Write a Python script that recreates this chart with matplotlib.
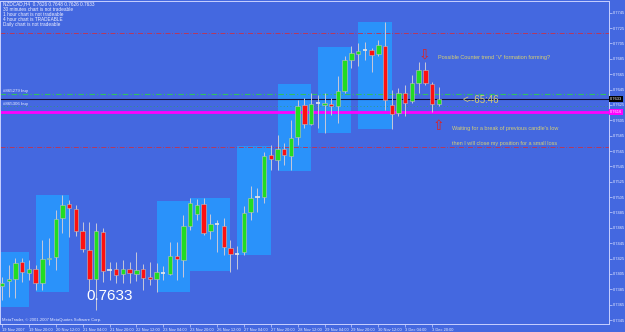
import numpy as np
import matplotlib.pyplot as plt
from matplotlib.patches import Rectangle

plt.rcParams['font.family'] = ['Liberation Sans', 'DejaVu Sans']

# NZDCAD H4 candles, bar 0 = 19 Nov 2007 04:00
opens = [0.7389, 0.7396, 0.7399, 0.7421, 0.7406, 0.7412, 0.7393, 0.7425, 0.7427, 0.7478,
         0.7496, 0.7490, 0.7461, 0.7436, 0.7399, 0.7460, 0.7410, 0.7412, 0.7405, 0.7412,
         0.7405, 0.7412, 0.7401, 0.7398, 0.7406, 0.7405, 0.7428, 0.7423, 0.7468, 0.7483,
         0.7496, 0.7461, 0.7470, 0.7468, 0.7439, 0.7431, 0.7433, 0.7485, 0.7505, 0.7505,
         0.7560, 0.7553, 0.7567, 0.7559, 0.7583, 0.7625, 0.7600, 0.7627, 0.7625, 0.7626,
         0.7623, 0.7643, 0.7683, 0.7691, 0.7696, 0.7697, 0.7691, 0.7702, 0.7625, 0.7614,
         0.7640, 0.7630, 0.7654, 0.7670, 0.7652, 0.7626]
highs = [0.7401, 0.7417, 0.7426, 0.7426, 0.7423, 0.7417, 0.7449, 0.7452, 0.7488, 0.7508,
         0.7501, 0.7495, 0.7473, 0.7473, 0.7471, 0.7465, 0.7421, 0.7421, 0.7423, 0.7421,
         0.7434, 0.7418, 0.7421, 0.7419, 0.7415, 0.7447, 0.7446, 0.7482, 0.7504, 0.7503,
         0.7504, 0.7483, 0.7475, 0.7478, 0.7449, 0.7441, 0.7494, 0.7519, 0.7517, 0.7564,
         0.7573, 0.7586, 0.7575, 0.7605, 0.7631, 0.7634, 0.7641, 0.7638, 0.7641, 0.7634,
         0.7662, 0.7688, 0.7701, 0.7706, 0.7707, 0.7699, 0.7710, 0.7733, 0.7644, 0.7647,
         0.7651, 0.7664, 0.7681, 0.7681, 0.7655, 0.7648]
lows = [0.7371, 0.7375, 0.7374, 0.7395, 0.7397, 0.7384, 0.7384, 0.7417, 0.7410, 0.7458,
        0.7453, 0.7454, 0.7434, 0.7384, 0.7358, 0.7395, 0.7397, 0.7393, 0.7393, 0.7393,
        0.7396, 0.7384, 0.7391, 0.7382, 0.7397, 0.7404, 0.7397, 0.7401, 0.7462, 0.7475,
        0.7456, 0.7451, 0.7434, 0.7430, 0.7408, 0.7412, 0.7430, 0.7475, 0.7485, 0.7497,
        0.7540, 0.7540, 0.7547, 0.7540, 0.7573, 0.7595, 0.7599, 0.7595, 0.7588, 0.7612,
        0.7602, 0.7641, 0.7673, 0.7675, 0.7683, 0.7668, 0.7689, 0.7618, 0.7594, 0.7611,
        0.7610, 0.7627, 0.7641, 0.7651, 0.7616, 0.7623]
closes = [0.7393, 0.7399, 0.7419, 0.7408, 0.7412, 0.7393, 0.7425, 0.7426, 0.7477, 0.7495,
          0.7491, 0.7461, 0.7438, 0.7399, 0.7461, 0.7409, 0.7410, 0.7404, 0.7412, 0.7406,
          0.7410, 0.7400, 0.7399, 0.7407, 0.7406, 0.7428, 0.7424, 0.7467, 0.7498, 0.7495,
          0.7458, 0.7470, 0.7470, 0.7440, 0.7431, 0.7431, 0.7484, 0.7504, 0.7505, 0.7559,
          0.7554, 0.7568, 0.7560, 0.7582, 0.7624, 0.7600, 0.7626, 0.7627, 0.7627, 0.7623,
          0.7643, 0.7683, 0.7692, 0.7695, 0.7696, 0.7690, 0.7703, 0.7631, 0.7613, 0.7641,
          0.7628, 0.7653, 0.7671, 0.7653, 0.7626, 0.7633]

# daily range boxes (first bar, last bar, high, low)
box_start = [-1, 5, 23, 28, 35, 41, 47, 53]
box_end = [4, 10, 28, 34, 40, 46, 52, 58]
box_high = [0.7434, 0.7508, 0.7500, 0.7504, 0.7572, 0.7652, 0.7700, 0.7733]
box_low = [0.7362, 0.7381, 0.7382, 0.7409, 0.7430, 0.7539, 0.7588, 0.7594]

time_labels = ["19 Nov 2007", "19 Nov 20:00", "20 Nov 12:00", "21 Nov 04:00", "21 Nov 20:00",
               "22 Nov 12:00", "23 Nov 04:00", "23 Nov 20:00", "26 Nov 12:00", "27 Nov 04:00",
               "27 Nov 20:00", "28 Nov 12:00", "29 Nov 04:00", "29 Nov 20:00", "30 Nov 12:00",
               "3 Dec 04:00", "3 Dec 20:00"]
time_bars = list(range(0, 65, 4))

price_ticks = np.round(np.arange(0.7345, 0.7746, 0.002), 4)

bid = 0.7633
magenta_level = 0.7616
order1 = 0.7639
order2 = 0.7623
red_levels = [0.7719, 0.7570]

bg = '#4468E0'
box_col = '#2A92FA'
axis_col = '#C8D0FF'
text_yel = '#D8D070'

fig = plt.figure(figsize=(6.25, 3.32), dpi=100)
fig.patch.set_facecolor(bg)
ax = fig.add_axes([0, 8 / 332, 609 / 625, 323 / 332])
ax.set_facecolor(bg)
ax.set_xlim(-0.3, 90.33)
ax.set_ylim(0.73399, 0.77602)

for s, e, h, l in zip(box_start, box_end, box_high, box_low):
    ax.add_patch(Rectangle((s, l), e - s, h - l, facecolor=box_col, edgecolor='none', zorder=1))

# levels
for lv in red_levels:
    ax.axhline(lv, color='#C83048', lw=0.6, ls=(0, (6, 2, 1, 2)), zorder=2)
ax.axhline(order1, color='#30C060', lw=0.8, ls=(0, (5, 2, 1, 2)), zorder=2)
ax.axhline(order2, color='#30A060', lw=0.6, ls=(0, (1, 3)), zorder=2)
ax.axhline(bid, color='#101040', lw=0.8, zorder=2)
ax.axhline(magenta_level, color='#FF00FF', lw=2, zorder=2)

# candles
x = np.arange(len(opens))
ax.vlines(x, lows, highs, color='#C8C8D8', lw=0.7, zorder=3)
for i in x:
    o, c = opens[i], closes[i]
    if abs(c - o) < 0.00005:
        ax.hlines(o, i - 0.32, i + 0.32, color='#E8E8E8', lw=1.2, zorder=4)
        continue
    col = '#22DD22' if c > o else '#FF1010'
    ax.bar(i, abs(c - o), bottom=min(o, c), width=0.66, color=col,
           edgecolor='#C0C0C0', linewidth=0.4, zorder=4)

# axes styling
for sp in ax.spines.values():
    sp.set_color(axis_col)
    sp.set_linewidth(0.7)
ax.yaxis.tick_right()
ax.set_yticks(price_ticks)
ax.set_yticklabels([f'{p:.4f}' for p in price_ticks])
ax.set_xticks(time_bars)
ax.set_xticklabels(time_labels, ha='left')
ax.tick_params(axis='both', colors=axis_col, labelcolor='#E8ECFF', labelsize=2.9,
               length=2, width=0.5, pad=1)
ax.tick_params(axis='y', pad=0.8)

# price boxes on the right axis
ax.text(90.5, bid, '0.7633', fontsize=2.9, color='white', va='center', ha='left',
        bbox=dict(boxstyle='square,pad=0.2', fc='black', ec='none'), clip_on=False, zorder=6)
ax.text(90.5, magenta_level, '0.7616', fontsize=2.9, color='white', va='center', ha='left',
        bbox=dict(boxstyle='square,pad=0.2', fc='#FF00FF', ec='none'), clip_on=False, zorder=6)

# annotations
ax.text(0.2, 0.76437, '#865279 buy', fontsize=3.2, color='#E8ECFF', va='center')
ax.text(0.2, 0.76262, '#865306 buy', fontsize=3.2, color='#E8ECFF', va='center')
ax.text(64.9, 0.76873, "Possible Counter trend `V' formation forming?", fontsize=4.0,
        color=text_yel, va='center')
ax.text(68.6, 0.76314, '<--65:46', fontsize=7, color=text_yel, va='center')
ax.text(67.0, 0.75937, "Waiting for a break of previous candle's low", fontsize=4.0,
        color=text_yel, va='center')
ax.text(67.0, 0.75754, 'then I will close my position for a small loss', fontsize=4.0,
        color=text_yel, va='center')
ax.text(62.8, 0.76900, '\u21e9', fontsize=10, color='#E02020', ha='center', va='center',
        family='DejaVu Sans')
ax.text(65.0, 0.75976, '\u21e7', fontsize=10, color='#E02020', ha='center', va='center',
        family='DejaVu Sans')
ax.text(12.5, 0.73764, '0.7633', fontsize=11, color='white', va='center')
ax.text(0.0, 0.7342, 'MetaTrader, \u00a9 2001-2007 MetaQuotes Software Corp.', fontsize=3.0,
        color='#E8ECFF', va='bottom')

top_lines = ['NZDCAD,H4  0.7626 0.7648 0.7626 0.7633',
             '30 minutes chart is not tradeable',
             '1 hour chart is not tradeable',
             '4 hour chart is TRADEABLE',
             'Daily chart is not tradeable']
for k, t in enumerate(top_lines):
    fig.text(3 / 625, 1 - (4 + 5.1 * k) / 332, t, fontsize=3.4, color='#F0F0FF', va='center')

fig.savefig('out.png', dpi=100, facecolor=bg)
